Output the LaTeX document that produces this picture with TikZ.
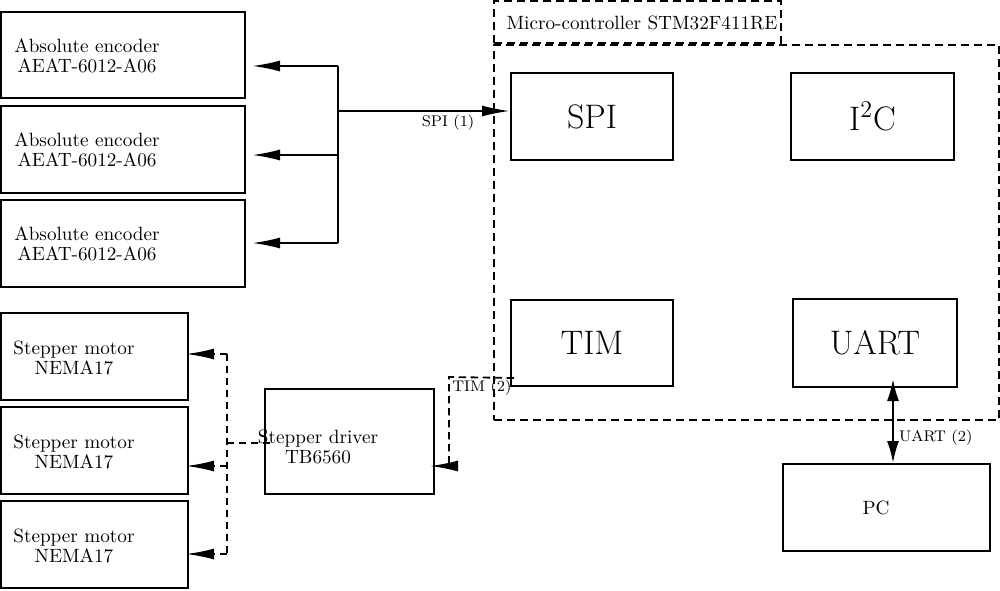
\documentclass[tikz,border=0pt]{standalone}
\usetikzlibrary{arrows.meta,calc}
\begin{document}
\begin{tikzpicture}[x=0.5pt,y=-0.5pt,
  box/.style={draw,line width=1pt,rectangle,inner sep=0pt},
  dbox/.style={draw,line width=0.9pt,rectangle,inner sep=0pt,dash pattern=on 4pt off 2.5pt},
  txt/.style={align=center,inner sep=0pt,font=\fontsize{9.6}{10}\selectfont},
  big/.style={font=\fontsize{17}{20}\selectfont},
  lbl/.style={font=\fontsize{7.7}{9}\selectfont,inner sep=1.5pt},
  conn/.style={line width=1pt},
  dconn/.style={line width=0.9pt,dash pattern=on 3.7pt off 2.3pt},
  tip/.style={-{Latex[length=14pt,width=5.5pt]}},
  dtip/.style={{Latex[length=11pt,width=6pt]}-{Latex[length=11pt,width=6pt]}}
]
\useasboundingbox (0,0) rectangle (1000,590);

% encoders
\node[box,minimum width=122pt,minimum height=43pt] (enc1) at (123,55) {};
\node[box,minimum width=122pt,minimum height=43.5pt] (enc2) at (123,149.5) {};
\node[box,minimum width=122pt,minimum height=43.5pt] (enc3) at (123,243.5) {};
\node[txt] (enc1t) at (87,56) {Absolute encoder\\AEAT-6012-A06};
\node[txt] (enc2t) at (87,150) {Absolute encoder\\AEAT-6012-A06};
\node[txt] (enc3t) at (87,244) {Absolute encoder\\AEAT-6012-A06};

% motors
\node[box,minimum width=93.5pt,minimum height=43.5pt] (mot1) at (94.5,356.5) {};
\node[box,minimum width=93.5pt,minimum height=43.5pt] (mot2) at (94.5,450.5) {};
\node[box,minimum width=93.5pt,minimum height=43.5pt] (mot3) at (94.5,544.5) {};
\node[txt] (mot1t) at (74,358) {Stepper motor\\NEMA17};
\node[txt] (mot2t) at (74,452) {Stepper motor\\NEMA17};
\node[txt] (mot3t) at (74,546) {Stepper motor\\NEMA17};

% driver
\node[box,minimum width=84.5pt,minimum height=52.5pt] (drv) at (349.5,441.5) {};
\node[txt] (drvt) at (318,447) {Stepper driver\\TB6560};

% micro-controller
\node[dbox,minimum width=143.5pt,minimum height=21pt] (mcul) at (637.5,22) {};
\node[txt] (mcult) at (642,23) {Micro-controller STM32F411RE};
\node[dbox,minimum width=252.5pt,minimum height=187.5pt] (mcu) at (746.5,232.5) {};

\node[box,big,minimum width=81pt,minimum height=43.5pt] (spi) at (592,116.5) {SPI};
\node[box,big,minimum width=81.5pt,minimum height=43.5pt] (i2c) at (872.5,116.5) {I$^2$C};
\node[box,big,minimum width=81pt,minimum height=43pt] (tim) at (592,343) {TIM};
\node[box,big,minimum width=82pt,minimum height=44pt] (uart) at (875,343) {UART};

% PC
\node[box,minimum width=103.5pt,minimum height=43.5pt] (pc) at (886.5,507.5) {};
\node[txt] (pct) at (876,508) {PC};

% SPI bus
\coordinate (b1) at (338,66);
\coordinate (b2) at (338,155);
\coordinate (b3) at (338,243);
\coordinate (bs) at (338,111);
\draw[conn] (b1) -- (b3);
\draw[conn,tip] (b1) -- ([xshift=3pt]enc1.east |- b1);
\draw[conn,tip] (b2) -- ([xshift=3pt]enc2.east |- b2);
\draw[conn,tip] (b3) -- ([xshift=3pt]enc3.east |- b3);
\draw[conn,tip] (bs) -- (bs -| spi.west) node[lbl,pos=0.64,below] (spil) {SPI (1)};

% motor bus
\coordinate (m1) at (227,354);
\coordinate (m2) at (227,466);
\coordinate (m3) at (227,554);
\coordinate (md) at (227,443);
\draw[dconn] (m1) -- (m3);
\draw[dconn,tip] (m1) -- ([xshift=-1.5pt]mot1.east |- m1);
\draw[dconn,tip] (m2) -- ([xshift=-1.5pt]mot2.east |- m2);
\draw[dconn,tip] (m3) -- ([xshift=-1.5pt]mot3.east |- m3);
\draw[dconn] (md) -- ([xshift=3.5pt]drv.west |- md);

% TIM link
\coordinate (t1) at ([shift={(2pt,4.5pt)}]tim.south west);
\coordinate (t2) at (449,377);
\coordinate (t3) at (449,466);
\draw[dconn,tip] (t1) -- (t2) -- (t3) -- ([xshift=-2.5pt]drv.east |- t3);
\node[lbl,anchor=north west] (timl) at (t2) {TIM (2)};

% UART link
\coordinate (u1) at ([shift={(9pt,4.5pt)}]uart.south);
\draw[conn,dtip] (u1) -- (u1 |- pc.north) node[lbl,pos=0.7,right,xshift=1pt] (uartl) {UART (2)};
\end{tikzpicture}
\end{document}
